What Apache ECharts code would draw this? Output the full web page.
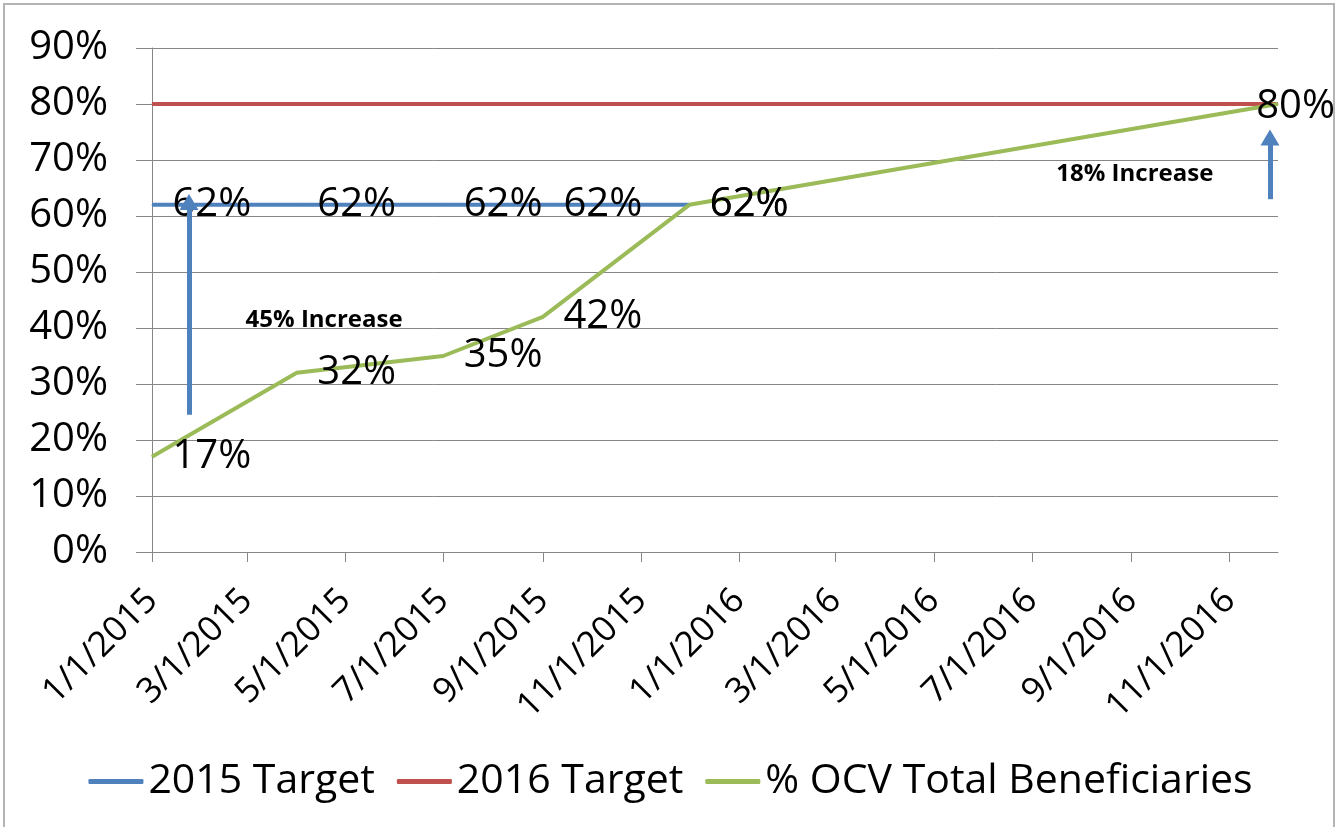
<!DOCTYPE html>
<html>
<head>
<meta charset="utf-8">
<script src="https://cdn.jsdelivr.net/npm/echarts@6/dist/echarts.min.js"></script>
<style>
  html, body { margin: 0; padding: 0; background: #fff; }
  #frame {
    position: absolute; left: 3px; top: 3px; width: 1332px; height: 840px;
    border: 2px solid #b4b4b4; box-sizing: border-box;
  }
  #main { position: absolute; left: 0; top: 0; width: 1341px; height: 827px; }
</style>
</head>
<body>
<div id="frame"></div>
<div id="main"></div>
<script>
// series data (values in %)
const target2015Dates = ['2015-01-01', '2015-04-01', '2015-07-01', '2015-09-01', '2015-12-01'];
const target2015 = [62, 62, 62, 62, 62];
const target2016Dates = ['2015-01-01', '2016-12-01'];
const target2016 = [80, 80];
const ocvDates = ['2015-01-01', '2015-04-01', '2015-07-01', '2015-09-01', '2015-12-01', '2016-12-01'];
const ocvTotal = [17, 32, 35, 42, 62, 80];
const seriesNames = ['2015 Target', '2016 Target', '% OCV Total Beneficiaries'];

// annotations: arrows (date, from %, to %) and notes
const arrowDates = ['2015-01-24', '2016-11-26'];
const arrowFrom = [24.5, 63];
const arrowTo = [62.5, 74];
const noteTexts = ['45% Increase', '18% Increase'];
const noteDates = ['2015-04-18', '2016-09-03'];
const noteValues = [41.4, 67.5];

const FONT = 'Open Sans';
const pairs = (xs, ys) => xs.map((x, i) => [x, ys[i]]);

var chartDom = document.getElementById('main');
var myChart = echarts.init(chartDom);
var W = 1341;

var pointLabel = {
  show: true,
  position: 'right',
  distance: 20,
  offset: [0, 4],
  fontFamily: FONT,
  fontSize: 40,
  color: '#000',
  formatter: p => p.value[1] + '%'
};

var option = {
  animation: false,
  textStyle: { fontFamily: FONT },
  grid: { left: 152, right: 63, top: 48, bottom: 275, outerBoundsMode: 'none' },
  legend: {
    top: 756,
    left: 'center',
    icon: 'roundRect',
    itemWidth: 55,
    itemHeight: 5,
    itemGap: 22,
    textStyle: { fontFamily: FONT, fontSize: 41, color: '#000' },
    data: seriesNames
  },
  xAxis: {
    type: 'time',
    min: '2015-01-01',
    max: '2016-12-01',
    splitNumber: 11,
    axisLine: { lineStyle: { color: '#868686' } },
    axisTick: { show: true, length: 10, lineStyle: { color: '#868686' } },
    splitLine: { show: false },
    axisLabel: {
      rotate: 45,
      margin: 43,
      fontFamily: FONT,
      fontSize: 35,
      color: '#000',
      formatter: function (val) {
        var d = new Date(val);
        return (d.getMonth() + 1) + '/' + d.getDate() + '/' + d.getFullYear();
      }
    }
  },
  yAxis: {
    type: 'value',
    min: 0,
    max: 90,
    interval: 10,
    axisLine: { show: true, lineStyle: { color: '#868686' } },
    axisTick: { show: true, length: 16, lineStyle: { color: '#868686' } },
    splitLine: { lineStyle: { color: '#868686' } },
    axisLabel: {
      margin: 44,
      fontFamily: FONT,
      fontSize: 40,
      color: '#000',
      formatter: '{value}%'
    }
  },
  // keep point labels inside the chart (the last one sits at the right edge)
  labelLayout: function (params) {
    var r = params.labelRect;
    if (r.x + r.width > W - 6) {
      return {
        x: W - 6 - r.width,
        y: params.rect.y + params.rect.height / 2 + 3,
        align: 'left',
        verticalAlign: 'middle'
      };
    }
  },
  series: [
    {
      name: seriesNames[0],
      type: 'line',
      data: pairs(target2015Dates, target2015),
      symbol: 'circle',
      symbolSize: 1,
      color: '#4F81BD',
      lineStyle: { width: 4 },
      label: pointLabel,
      markLine: {
        silent: true,
        symbol: ['none', 'triangle'],
        symbolSize: [19, 16],
        label: { show: false },
        lineStyle: { color: '#4F81BD', width: 5, type: 'solid' },
        data: arrowDates.map((d, i) => [{ coord: [d, arrowFrom[i]] }, { coord: [d, arrowTo[i]] }])
      }
    },
    {
      name: seriesNames[1],
      type: 'line',
      data: pairs(target2016Dates, target2016),
      symbol: 'circle',
      symbolSize: 1,
      color: '#C0504D',
      lineStyle: { width: 4 }
    },
    {
      name: seriesNames[2],
      type: 'line',
      data: pairs(ocvDates, ocvTotal),
      symbol: 'circle',
      symbolSize: 1,
      color: '#9BBB59',
      lineStyle: { width: 4 },
      label: pointLabel,
      markPoint: {
        silent: true,
        symbol: 'circle',
        symbolSize: 0,
        label: {
          show: true,
          position: 'inside',
          formatter: '{b}',
          fontFamily: FONT,
          fontSize: 24,
          fontWeight: 'bold',
          color: '#000'
        },
        data: noteTexts.map((t, i) => ({ name: t, coord: [noteDates[i], noteValues[i]] }))
      }
    }
  ]
};
option && myChart.setOption(option);
</script>
</body>
</html>
